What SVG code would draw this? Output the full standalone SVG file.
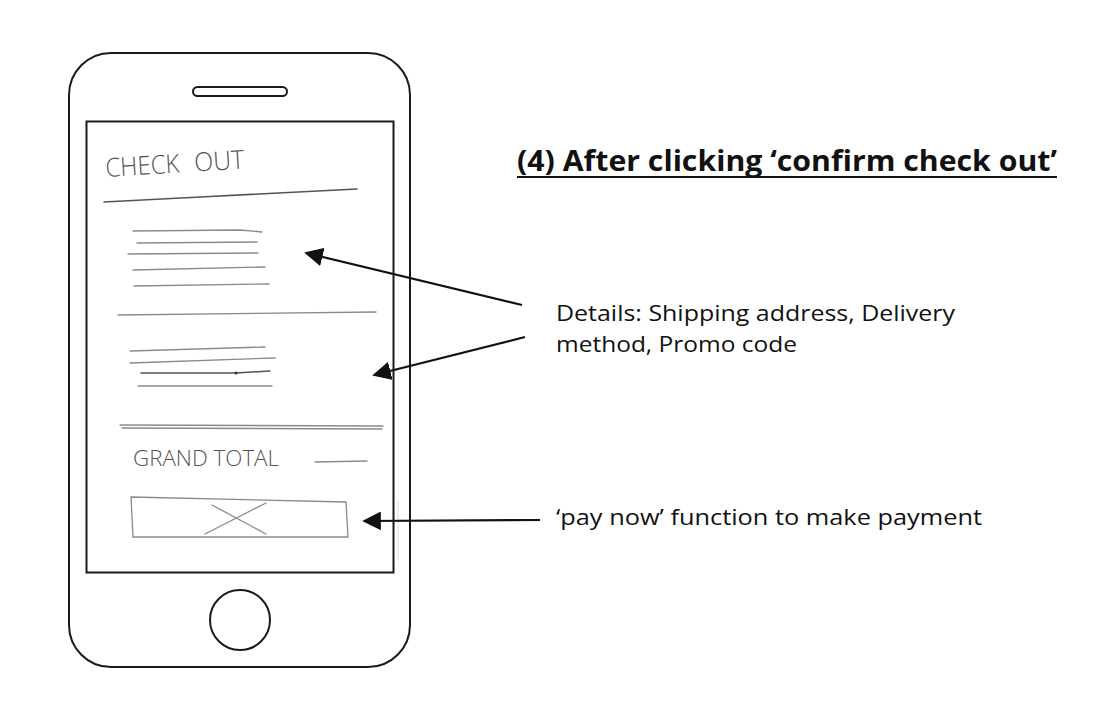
<svg xmlns="http://www.w3.org/2000/svg" width="1116" height="724" viewBox="0 0 1116 724">
<style>
.frame{fill:none;stroke:#1a1a1a;stroke-width:2}
.pencil{fill:none;stroke:#8a8a8a;stroke-width:1.3;stroke-linecap:round}
.pencil2{fill:none;stroke:#555;stroke-width:1.6;stroke-linecap:round}
.hand{font-family:"Open Sans","Liberation Sans",sans-serif;font-weight:300;fill:#555}
.note{font-family:"Open Sans","Liberation Sans",sans-serif;font-size:21px;fill:#111}
.title{font-family:"Open Sans","Liberation Sans",sans-serif;font-size:28px;font-weight:bold;fill:#111}
.arrow{stroke:#111;stroke-width:2.2;fill:none}
</style>
<defs>
<marker id="ah2" viewBox="0 0 10 10" refX="9" refY="5" markerWidth="8.5" markerHeight="8.5" orient="auto">
<path d="M0,0 L10,5 L0,10 z" fill="#111"/>
</marker>
</defs>
<rect width="1116" height="724" fill="#fff"/>
<g id="phone">
<rect class="frame" x="69" y="53" width="341" height="614" rx="42"/>
<rect class="frame" x="193" y="87" width="94" height="9" rx="4.5"/>
<rect class="frame" x="86.5" y="121.5" width="307" height="451"/>
<circle class="frame" cx="240" cy="620" r="30"/>
<line x1="398" y1="500" x2="398" y2="560" stroke="#ddd" stroke-width="1"/>
</g>
<g id="sketch">
<text class="hand" x="106" y="177" font-size="26" transform="rotate(-3.5 106 177)"><tspan textLength="74" lengthAdjust="spacingAndGlyphs">CHECK</tspan><tspan x="195" textLength="50" lengthAdjust="spacingAndGlyphs">OUT</tspan></text>
<path class="pencil2" d="M104,202 L200,197 L357,189" stroke-width="2.4"/>
<path class="pencil" d="M133,231 L240,230 L262,232"/>
<path class="pencil" d="M137,243 L257,242"/>
<path class="pencil" d="M128,254 L258,253"/>
<path class="pencil" d="M133,270 L265,267"/>
<path class="pencil" d="M134,286 L269,284"/>
<path class="pencil" d="M118,315 L376,312"/>
<path class="pencil" d="M130,351 L265,347"/>
<path class="pencil" d="M130,363 L275,358"/>
<path class="pencil2" d="M141,373 L236,373 L270,371"/>
<circle cx="236" cy="373" r="1.5" fill="#333"/>
<path class="pencil" d="M138,386 L272,386"/>
<path class="pencil" d="M120,425 L383,426"/>
<path class="pencil" d="M122,428 L382,429"/>
<text class="hand" x="133" y="466" font-size="22" textLength="146" lengthAdjust="spacingAndGlyphs">GRAND TOTAL</text>
<path class="pencil" d="M315,462 L367,461"/>
<path class="pencil" d="M131,497 L346,502 L348,537 L133,537 Z"/>
<path class="pencil" d="M212,505 L266,534"/>
<path class="pencil" d="M205,534 L266,503"/>
</g>
<g id="title">
<text class="title" x="517" y="171" textLength="540" lengthAdjust="spacingAndGlyphs">(4) After clicking ‘confirm check out’</text>
<line x1="517" y1="177" x2="1057" y2="177" stroke="#111" stroke-width="2"/>
</g>
<g id="note-details">
<text class="note" x="556" y="321" textLength="399" lengthAdjust="spacingAndGlyphs">Details: Shipping address, Delivery</text>
<text class="note" x="556" y="352" textLength="241" lengthAdjust="spacingAndGlyphs">method, Promo code</text>
</g>
<g id="note-pay">
<text class="note" x="556" y="525" textLength="426" lengthAdjust="spacingAndGlyphs">‘pay now’ function to make payment</text>
</g>
<g id="connectors">
<line class="arrow" x1="522" y1="305" x2="306" y2="253" marker-end="url(#ah2)"/>
<line class="arrow" x1="525" y1="337" x2="374" y2="375" marker-end="url(#ah2)"/>
<line class="arrow" x1="540" y1="520" x2="364" y2="521" marker-end="url(#ah2)"/>
</g>
</svg>
